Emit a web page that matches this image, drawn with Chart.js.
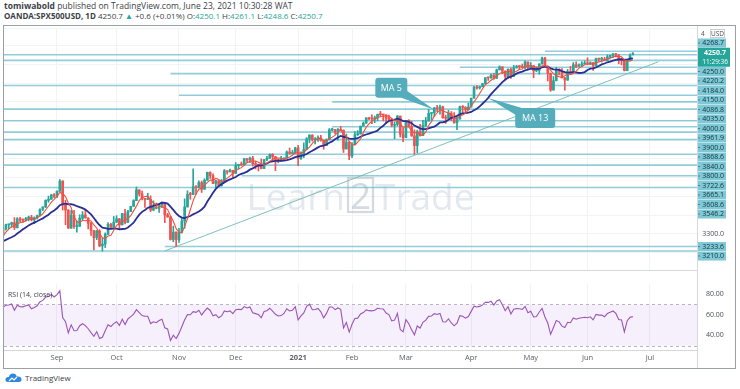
<!DOCTYPE html>
<html><head><meta charset="utf-8">
<script src="https://cdn.jsdelivr.net/npm/chart.js@4.4.0/dist/chart.umd.min.js"></script>
<style>
body{margin:0;background:#fff;}
#wrap{position:relative;width:740px;height:389px;overflow:hidden;background:#fff;font-family:"Open Sans",sans-serif;}
#frame{position:absolute;left:3px;top:25px;width:731px;height:342px;border:1px solid #9aa0a6;}
.hd{position:absolute;left:4px;white-space:nowrap;color:#3c3f48;}
#h1{top:0px;font-size:8.5px;}
#h2{top:10px;font-size:8px;}
.up{color:#26a69a;}
#cMain{position:absolute;left:4px;top:26px;}
#cRsi{position:absolute;left:4px;top:271px;}
#foot{position:absolute;left:5px;top:372px;font-size:8px;color:#3c3f48;display:flex;align-items:center;}
</style></head>
<body><div id="wrap">
<div id="frame"></div>
<div class="hd" id="h1"><b>tomiwabold</b> published on TradingView.com, June 23, 2021 10:30:28 WAT</div>
<div class="hd" id="h2"><b>OANDA:SPX500USD, 1D</b> 4250.7 <span class="up">▲</span> +0.6 (+0.01%) O:<span class="up">4250.1</span> H:<span class="up">4261.1</span> L:<span class="up">4248.6</span> C:<span class="up">4250.7</span></div>
<canvas id="cMain" width="731" height="245"></canvas>
<canvas id="cRsi" width="731" height="97"></canvas>
<div id="foot"><svg width="17" height="11" viewBox="0 0 17 11"><path d="M3 10 Q0 10 0.5 7 Q1 4.5 4 5 Q4.5 1.5 8 1.5 Q11 1.5 11.8 4.5 Q16.5 4 16.5 7.5 Q16.5 10 13.5 10 Z" fill="#2e86de"/><path d="M4 9 L7 6 L9 8 L12 5" stroke="#fff" stroke-width="1.2" fill="none"/></svg><span style="margin-left:3px">TradingView</span></div>
</div>
<script>
// ---------- DATA ----------
// trading days (OANDA:SPX500USD daily bars), Aug 2020 – Jun 23 2021
const tradingDays = {
 '2020-08':[3,4,5,6,7,10,11,12,13,14,17,18,19,20,21,24,25,26,27,28,31],
 '2020-09':[1,2,3,4,8,9,10,11,14,15,16,17,18,21,22,23,24,25,28,29,30],
 '2020-10':[1,2,5,6,7,8,9,12,13,14,15,16,19,20,21,22,23,26,27,28,29,30],
 '2020-11':[2,3,4,5,6,9,10,11,12,13,16,17,18,19,20,23,24,25,27,30],
 '2020-12':[1,2,3,4,7,8,9,10,11,14,15,16,17,18,21,22,23,24,28,29,30,31],
 '2021-01':[4,5,6,7,8,11,12,13,14,15,19,20,21,22,25,26,27,28,29],
 '2021-02':[1,2,3,4,5,8,9,10,11,12,16,17,18,19,22,23,24,25,26],
 '2021-03':[1,2,3,4,5,8,9,10,11,12,15,16,17,18,19,22,23,24,25,26,29,30,31],
 '2021-04':[1,5,6,7,8,9,12,13,14,15,16,19,20,21,22,23,26,27,28,29,30],
 '2021-05':[3,4,5,6,7,10,11,12,13,14,17,18,19,20,21,24,25,26,27,28],
 '2021-06':[1,2,3,4,7,8,9,10,11,14,15,16,17,18,21,22,23]
};
const futureDays = ['2021-06-24','2021-06-25','2021-06-28','2021-06-29','2021-06-30','2021-07-01','2021-07-02','2021-07-06','2021-07-07','2021-07-08','2021-07-09','2021-07-12','2021-07-13','2021-07-14','2021-07-15','2021-07-16','2021-07-19','2021-07-20'];

const opens = [
 3271,3294,3306,3327,3349,3351,3360,3333,3380,3373,3373,3381,3389,3375,3385,3397,3431,3443,3478,3484,3508,
 3500,3526,3580,3455,3427,3331,3399,3339,3341,3383,3401,3385,3357,3319,3281,3315,3237,3246,3298,3351,3335,
 3363,3381,3348,3408,3361,3419,3447,3477,3534,3512,3489,3483,3484,3427,3443,3436,3453,3465,3401,3391,3271,3310,
 3270,3310,3369,3443,3510,3509,3550,3545,3572,3537,3585,3627,3609,3568,3582,3557,3577,3635,3629,3638,
 3621,3662,3669,3667,3699,3692,3702,3673,3668,3663,3647,3695,3701,3722,3709,3695,3687,3690,3703,3735,3727,3732,
 3756,3700,3727,3748,3804,3824,3800,3801,3810,3795,3768,3799,3852,3853,3841,3855,3850,3751,3787,
 3714,3774,3826,3830,3872,3887,3915,3911,3910,3916,3935,3932,3931,3914,3907,3876,3881,3925,3829,
 3811,3902,3870,3820,3768,3842,3821,3875,3899,3939,3943,3969,3962,3974,3915,3913,3940,3910,3889,3909,3974,3971,3958,
 3973,4020,4078,4074,4080,4097,4129,4128,4141,4125,4170,4185,4163,4135,4173,4135,4180,4187,4187,4183,4211,
 4181,4192,4165,4167,4201,4232,4188,4152,4063,4112,4174,4163,4128,4116,4159,4156,4197,4188,4196,4201,
 4204,4202,4208,4193,4230,4226,4227,4220,4239,4247,4255,4246,4224,4222,4166,4225,4250.1];
const highs = [
 3302,3307,3330,3352,3352,3363,3387,3387,3388,3380,3388,3395,3399,3391,3400,3433,3444,3481,3501,3509,3514,
 3529,3588,3583,3479,3429,3425,3425,3368,3402,3419,3428,3386,3362,3320,3320,3323,3279,3306,3360,3357,3393,
 3397,3382,3409,3431,3426,3447,3482,3549,3534,3527,3489,3516,3502,3476,3464,3461,3466,3466,3409,3392,3342,3312,
 3330,3389,3486,3529,3521,3646,3557,3582,3581,3593,3628,3630,3619,3585,3582,3589,3642,3635,3644,3638,
 3678,3670,3682,3701,3700,3708,3712,3685,3670,3698,3695,3711,3725,3726,3712,3698,3711,3704,3740,3756,3744,3760,
 3770,3735,3783,3811,3826,3826,3811,3820,3823,3796,3804,3859,3861,3855,3859,3870,3852,3830,3790,
 3784,3843,3848,3872,3894,3916,3919,3931,3925,3935,3950,3933,3932,3930,3910,3895,3928,3925,3861,
 3903,3906,3898,3852,3851,3881,3903,3918,3960,3944,3970,3982,3983,3978,3930,3955,3949,3943,3919,3978,3981,3975,3994,
 4020,4083,4086,4083,4098,4129,4131,4148,4151,4174,4191,4187,4165,4175,4179,4194,4194,4193,4201,4218,4212,
 4209,4193,4187,4202,4238,4236,4190,4153,4135,4183,4175,4177,4130,4172,4189,4209,4213,4202,4213,4218,
 4234,4213,4210,4233,4232,4237,4237,4249,4248,4256,4257,4252,4232,4223,4226,4255,4261.1];
const lows = [
 3270,3283,3300,3320,3328,3335,3323,3332,3363,3362,3370,3370,3369,3355,3380,3395,3424,3440,3468,3484,3493,
 3493,3526,3427,3349,3329,3330,3329,3310,3340,3375,3384,3327,3292,3216,3270,3232,3209,3228,3298,3327,3335,
 3361,3323,3348,3354,3361,3419,3446,3477,3501,3480,3441,3483,3419,3423,3433,3415,3440,3360,3388,3268,3259,3233,
 3255,3306,3330,3443,3484,3509,3511,3544,3520,3537,3585,3594,3567,3543,3556,3553,3577,3617,3629,3594,
 3621,3645,3661,3665,3680,3678,3660,3645,3634,3645,3646,3688,3700,3685,3636,3677,3686,3690,3703,3723,3726,3726,
 3662,3695,3705,3748,3783,3792,3777,3791,3792,3749,3768,3799,3845,3830,3797,3847,3732,3750,3694,
 3705,3774,3822,3830,3872,3887,3906,3885,3890,3900,3923,3900,3885,3898,3868,3805,3873,3814,3789,
 3811,3868,3818,3723,3730,3819,3821,3870,3899,3903,3923,3949,3935,3914,3886,3910,3901,3888,3853,3909,3943,3944,3958,
 3973,4020,4068,4068,4080,4095,4114,4124,4120,4125,4170,4150,4118,4126,4124,4135,4180,4176,4181,4176,4174,
 4181,4128,4160,4147,4201,4188,4111,4056,4062,4112,4143,4127,4062,4114,4152,4156,4182,4188,4188,4201,
 4197,4198,4167,4193,4215,4211,4218,4220,4233,4234,4238,4202,4196,4164,4165,4217,4248.6];
const closes = [
 3294.6,3306.5,3327.8,3349.2,3351.3,3360.5,3333.7,3380.4,3373.4,3372.9,3381.9,3389.8,3374.9,3385.5,3397.2,3431.3,3443.6,3478.7,3484.6,3508.0,3500.3,
 3526.7,3580.8,3455.1,3426.9,3331.8,3398.9,3339.2,3340.9,3383.5,3401.2,3385.5,3357.0,3319.5,3281.1,3315.6,3236.9,3246.6,3298.5,3351.6,3335.5,3363.0,
 3380.8,3348.4,3408.6,3360.9,3419.4,3446.8,3477.1,3534.2,3511.9,3488.7,3483.3,3483.8,3426.9,3443.1,3435.6,3453.5,3465.4,3400.9,3390.7,3271.0,3310.1,3269.9,
 3310.2,3369.2,3443.4,3510.5,3509.4,3550.5,3545.5,3572.7,3537.0,3585.2,3626.9,3609.5,3567.8,3581.9,3557.5,3577.6,3635.4,3629.6,3638.4,3621.6,
 3662.5,3669.0,3666.7,3699.1,3691.9,3702.3,3672.8,3668.1,3663.5,3647.5,3694.6,3701.2,3722.5,3709.4,3694.9,3687.3,3690.0,3703.1,3735.4,3727.0,3732.0,3756.1,
 3700.6,3726.9,3748.1,3803.8,3824.7,3799.6,3801.2,3809.8,3795.5,3768.3,3798.9,3851.9,3853.1,3841.5,3855.4,3849.6,3750.8,3787.4,3714.2,
 3773.9,3826.3,3830.2,3871.7,3886.8,3915.6,3911.2,3909.9,3916.4,3934.8,3932.6,3931.3,3913.9,3906.7,3876.5,3881.4,3925.4,3829.3,3811.2,
 3901.8,3870.3,3819.7,3768.5,3841.9,3821.4,3875.4,3898.8,3939.3,3943.3,3968.9,3962.7,3974.1,3915.5,3913.1,3940.6,3910.5,3889.1,3909.5,3974.5,3971.1,3958.6,3972.9,
 4019.9,4077.9,4073.9,4079.9,4097.2,4128.8,4127.9,4141.6,4124.7,4170.4,4185.5,4163.3,4134.9,4173.4,4134.9,4180.2,4187.6,4186.7,4183.2,4211.5,4181.2,
 4192.7,4164.7,4167.6,4201.6,4232.6,4188.4,4152.1,4063.0,4112.5,4173.9,4163.3,4127.8,4115.7,4159.1,4155.9,4197.1,4188.1,4195.9,4200.9,4204.1,
 4202.0,4208.1,4192.9,4229.9,4226.5,4227.3,4219.6,4239.2,4247.4,4255.2,4246.6,4223.7,4221.9,4166.5,4224.8,4246.4,4250.7];
// closes before the visible window (Jun 15 – Jul 31 2020), only used to seed MA 5 / MA 13 / RSI
const priorCloses = [3066.6,3124.7,3113.5,3115.3,3097.7,3117.9,3131.3,3050.3,3083.8,3009.1,3053.2,3100.3,
 3115.9,3130.0,3179.7,3145.3,3169.9,3152.1,3185.0,3155.2,3197.5,3226.6,3215.6,3224.7,3251.8,3257.3,3276.0,3235.7,3215.6,3239.4,3218.4,3258.4,3246.2,3271.1];

// horizontal levels drawn on the chart and the date each one starts from (null = whole width)
const levelPrices = [4268.7,4250.0,4220.2,4184.0,4150.0,4086.8,4035.0,4000.0,3961.9,3900.0,3868.6,3840.0,3800.0,3722.6,3665.1,3608.6,3546.2,3233.6,3210.0];
const levelStarts = ['2021-05-10',null,null,'2021-03-26','2020-10-28',null,'2020-11-02','2021-01-21',null,null,'2021-01-21',null,null,null,null,'2020-12-03',null,'2020-10-26',null];
// trend line (date, price) → (date, price)
const trendFrom = ['2020-10-26', 3210];
const trendTo = ['2021-07-07', 4213];
// time axis
const monthStarts = ['2020-09-01','2020-10-01','2020-11-02','2020-12-01','2021-01-04','2021-02-01','2021-03-01','2021-04-01','2021-05-03','2021-06-01','2021-07-01'];
const monthLabels = ['Sep','Oct','Nov','Dec','2021','Feb','Mar','Apr','May','Jun','Jul'];
const rsiTicks = [40,60,80];
const countdown = '11:29:36';
// callouts: text, anchor date, anchor price
const callouts = [
 {text:'MA 5', date:'2021-03-15', price:3959, dx:-43, dy:-22, w:32},
 {text:'MA 13', date:'2021-04-12', price:4021, dx:47, dy:20, w:40}
];

// ---------- derived ----------
const dates = [];
Object.keys(tradingDays).forEach(m => tradingDays[m].forEach(d => dates.push(m + '-' + String(d).padStart(2,'0'))));
const allDates = dates.concat(futureDays);
const idx = d => allDates.indexOf(d);

const seriesC = priorCloses.concat(closes);
const off = priorCloses.length;
function sma(arr, n){ return arr.map((v,i)=> i<n-1 ? null : arr.slice(i-n+1,i+1).reduce((a,b)=>a+b,0)/n); }
function rsiCalc(arr, n){
  const out = new Array(arr.length).fill(null);
  let g=0,l=0;
  for(let i=1;i<=n;i++){const d=arr[i]-arr[i-1]; if(d>0) g+=d; else l-=d;}
  g/=n; l/=n; out[n]=100-100/(1+g/l);
  for(let i=n+1;i<arr.length;i++){const d=arr[i]-arr[i-1]; g=(g*(n-1)+Math.max(d,0))/n; l=(l*(n-1)+Math.max(-d,0))/n; out[i]= l===0?100:100-100/(1+g/l);}
  return out;
}
const ma5 = sma(seriesC,5).slice(off);
const ma13 = sma(seriesC,13).slice(off);
const rsi = rsiCalc(seriesC,14).slice(off);

// ---------- styles ----------
const UP='#26a69a', DOWN='#ef5350';
const X_MIN = 2.32, X_MAX = 246.6;
Chart.defaults.font.family = '"Open Sans", sans-serif';
const gridCol = '#f1f3f7';

const candleColors = closes.map((c,i)=> c>=opens[i] ? UP : DOWN);
const levelDatasets = levelPrices.map((p,k)=>({
  type:'line', data:[{x: levelStarts[k] ? idx(levelStarts[k]) : -20, y:p},{x: X_MAX+20, y:p}],
  borderColor:'rgba(110,188,204,0.75)', borderWidth:1.6, pointRadius:0, order:20
}));

const monthIdx = monthStarts.map(idx);

// ---------- plugins ----------
const mainPlugin = {
  id:'mainDecor',
  beforeDatasetsDraw(chart){
    const {ctx, chartArea:a} = chart;
    const cx = (a.left+a.right)/2, by = 184;
    ctx.save();
    ctx.globalAlpha = 0.33;
    ctx.font = '37px "Open Sans", sans-serif';
    ctx.fillStyle = '#a9bccb';
    ctx.textBaseline = 'alphabetic';
    ctx.textAlign='right'; ctx.fillText('Learn', cx - 5.5, by);
    ctx.textAlign='left'; ctx.fillText('Trade', cx + 24.5, by);
    ctx.strokeStyle='#7d8f9f'; ctx.lineWidth=2.2;
    ctx.strokeRect(cx-2.5, by-32, 25, 34);
    ctx.fillStyle='#7d8f9f'; ctx.textAlign='center'; ctx.fillText('2', cx+10, by-1);
    ctx.restore();
  },
  afterDatasetsDraw(chart){
    const {ctx, scales:{x,y}} = chart;
    ctx.save();
    callouts.forEach(c=>{
      const tx = x.getPixelForValue(idx(c.date)), ty = y.getPixelForValue(c.price);
      const bx = tx + c.dx, byc = ty + c.dy, w=c.w, h=20;
      const L=bx-w/2, T=byc-h/2;
      ctx.fillStyle='#55adbb';
      ctx.beginPath();
      const sx = c.dx<0 ? L+w-4 : L+4, sy = c.dy<0 ? T+h-4 : T+4;
      const ang = Math.atan2(ty-sy, tx-sx), half=4.5;
      ctx.moveTo(sx+Math.sin(ang)*half, sy-Math.cos(ang)*half);
      ctx.lineTo(tx, ty);
      ctx.lineTo(sx-Math.sin(ang)*half, sy+Math.cos(ang)*half);
      ctx.closePath(); ctx.fill();
      ctx.beginPath(); ctx.roundRect(L,T,w,h,3); ctx.fill();
      ctx.fillStyle='#fff'; ctx.font='9px "Open Sans", sans-serif';
      ctx.textAlign='center'; ctx.textBaseline='middle';
      ctx.fillText(c.text, bx, byc+0.5);
    });
    ctx.restore();
  },
  afterDraw(chart){
    const {ctx, chartArea:a, scales:{y}} = chart;
    ctx.save();
    const rowH = 9.5, left = y.left, bw = 29;
    // build rows: top cluster (stacked from the top of the pane) and bottom cluster
    const cur = closes[closes.length-1];
    const rows = [];
    const top = levelPrices.filter(p=>p>3400), bot = levelPrices.filter(p=>p<=3400);
    let r = a.top + 15;
    top.forEach(p=>{
      if(rows.length && rows[rows.length-1].p > cur && p <= cur && !rows.some(q=>q.cur)){
        rows.push({p:cur, cur:true, y:r}); r += rowH*2;
      }
      rows.push({p, y:r}); r += rowH;
    });
    r = y.getPixelForValue(bot[0]);
    bot.forEach(p=>{ rows.push({p, y:r}); r += rowH; });
    // regular ticks not covered by level labels
    ctx.font='7px "Open Sans", sans-serif'; ctx.textBaseline='middle'; ctx.textAlign='right';
    y.ticks.forEach(t=>{
      const py = y.getPixelForValue(t.value);
      if(py < a.top+4 || py > a.bottom-4) return;
      if(rows.some(q=> Math.abs(q.y-py) < 8 || (q.cur && Math.abs(q.y+rowH/2-py)<13))) return;
      ctx.fillStyle='#4a4d57'; ctx.fillText(t.value.toFixed(1), left+bw-2, py);
    });
    rows.forEach(q=>{
      if(q.cur){
        ctx.fillStyle=UP; ctx.fillRect(left, q.y-rowH/2, bw+4, rowH*2);
        ctx.fillStyle='#fff'; ctx.textAlign='right';
        ctx.font='bold 7px "Open Sans", sans-serif';
        ctx.fillText(q.p.toFixed(1), left+bw, q.y);
        ctx.font='6.5px "Open Sans", sans-serif';
        ctx.fillText(countdown, left+bw+2, q.y+rowH);
      } else {
        ctx.fillStyle='#7fc9d7'; ctx.fillRect(left, q.y-4.5, bw, 9);
        ctx.fillStyle='#3f8a99'; ctx.fillRect(left, q.y-0.5, 3, 1);
        ctx.fillStyle='#12323d'; ctx.textAlign='right';
        ctx.font='7px "Open Sans", sans-serif';
        ctx.fillText(q.p.toFixed(1), left+bw-2, q.y);
      }
    });
    // currency box
    ctx.fillStyle='#fff'; ctx.strokeStyle='#c9ccd3'; ctx.lineWidth=1;
    ctx.fillRect(left+13.5, a.top+1.5, 14, 8); ctx.strokeRect(left+13.5, a.top+1.5, 14, 8);
    ctx.fillStyle='#4a4d57'; ctx.textAlign='center'; ctx.font='6.5px "Open Sans", sans-serif';
    ctx.fillText('USD', left+20.5, a.top+5.8);
    ctx.textAlign='left'; ctx.fillText('4', left+4, a.top+5.8);
    // separators
    ctx.strokeStyle='#d5d8de'; ctx.beginPath();
    ctx.moveTo(a.right+0.5, 0); ctx.lineTo(a.right+0.5, chart.height);
    ctx.moveTo(0, a.bottom+0.5); ctx.lineTo(a.right, a.bottom+0.5);
    ctx.stroke();
    ctx.restore();
  }
};

const rsiPlugin = {
  id:'rsiDecor',
  beforeDatasetsDraw(chart){
    const {ctx, chartArea:a, scales:{y}} = chart;
    const y70 = y.getPixelForValue(70), y30 = y.getPixelForValue(30);
    ctx.save();
    ctx.fillStyle='rgba(149,85,210,0.09)';
    ctx.fillRect(a.left, y70, a.right-a.left, y30-y70);
    ctx.strokeStyle='#b9b3c8'; ctx.setLineDash([3,3]); ctx.lineWidth=1;
    ctx.beginPath(); ctx.moveTo(a.left,Math.round(y70)+0.5); ctx.lineTo(a.right,Math.round(y70)+0.5);
    ctx.moveTo(a.left,Math.round(y30)+0.5); ctx.lineTo(a.right,Math.round(y30)+0.5); ctx.stroke();
    ctx.restore();
  },
  afterDraw(chart){
    const {ctx, chartArea:a} = chart;
    ctx.save();
    ctx.fillStyle='#3c3f48'; ctx.font='7px "Open Sans", sans-serif'; ctx.textBaseline='middle';
    ctx.fillText('RSI (14, close)', a.left+4, a.top+11);
    ctx.strokeStyle='#d5d8de'; ctx.beginPath();
    ctx.moveTo(a.right+0.5, 0); ctx.lineTo(a.right+0.5, chart.height);
    ctx.moveTo(0, a.bottom+0.5); ctx.lineTo(a.right, a.bottom+0.5);
    ctx.stroke();
    ctx.restore();
  }
};

// ---------- main chart ----------
new Chart(document.getElementById('cMain'), {
  type:'bar',
  data:{ datasets:[
    {type:'line', data: ma5.map((v,i)=>({x:i,y:v})), borderColor:'#f0513f', borderWidth:1.1, pointRadius:0, order:1},
    {type:'line', data: ma13.map((v,i)=>({x:i,y:v})), borderColor:'#2b2f94', borderWidth:1.8, pointRadius:0, order:2},
    {type:'bar', data: closes.map((c,i)=>({x:i, y:[Math.min(opens[i],c), Math.max(opens[i],c)]})), backgroundColor:candleColors, barThickness:2, minBarLength:1, grouped:false, order:3},
    {type:'bar', data: closes.map((c,i)=>({x:i, y:[lows[i], highs[i]]})), backgroundColor:candleColors, barThickness:1, grouped:false, order:4},
    {type:'line', data:[{x:idx(trendFrom[0]), y:trendFrom[1]},{x:idx(trendTo[0]), y:trendTo[1]}], borderColor:'rgba(112,186,180,0.9)', borderWidth:1, pointRadius:0, order:10},
    ...levelDatasets
  ]},
  options:{
    responsive:false, animation:false, devicePixelRatio:1, events:[],
    layout:{padding:{top:2,bottom:1,left:0,right:0}},
    plugins:{legend:{display:false}, tooltip:{enabled:false}},
    scales:{
      x:{type:'linear', min:X_MIN, max:X_MAX, offset:false,
         afterBuildTicks:s=>{ s.ticks = monthIdx.map(v=>({value:v})); },
         ticks:{display:false}, grid:{color:gridCol, drawTicks:false, offset:false}, border:{display:false},
         afterFit:s=>{ s.height = 0; }},
      y:{position:'right', min:3109.2, max:4391.8,
         ticks:{display:false, stepSize:100}, grid:{color:gridCol, drawTicks:false}, border:{display:false},
         afterFit:s=>{ s.width = 38; }}
    }
  },
  plugins:[mainPlugin]
});

// ---------- RSI chart ----------
new Chart(document.getElementById('cRsi'), {
  type:'line',
  data:{ datasets:[
    {data: rsi.map((v,i)=>({x:i,y:v})), borderColor:'#9b55b6', borderWidth:1.1, pointRadius:0}
  ]},
  options:{
    responsive:false, animation:false, devicePixelRatio:1, events:[],
    layout:{padding:{top:1,bottom:0,left:0,right:0}},
    plugins:{legend:{display:false}, tooltip:{enabled:false}},
    scales:{
      x:{type:'linear', min:X_MIN, max:X_MAX,
         afterBuildTicks:s=>{ s.ticks = monthIdx.map(v=>({value:v})); },
         ticks:{autoSkip:false, maxRotation:0, padding:3, color:'#5d606b',
           font:(c)=>({size:7.5, weight: (c.tick && monthLabels[monthIdx.indexOf(c.tick.value)]==='2021') ? 'bold':'normal'}),
           callback:v=> monthLabels[monthIdx.indexOf(v)] },
         grid:{color:gridCol, drawTicks:false}, border:{display:false},
         afterFit:s=>{ s.height = 18; }},
      y:{position:'right', min:25.92, max:89.6,
         afterBuildTicks:s=>{ s.ticks = rsiTicks.map(v=>({value:v})); },
         ticks:{padding:9, color:'#4a4d57', font:{size:7}, callback:v=>v.toFixed(2)},
         grid:{display:false, drawTicks:false}, border:{display:false},
         afterFit:s=>{ s.width = 38; }}
    }
  },
  plugins:[rsiPlugin]
});
</script>
</body></html>
